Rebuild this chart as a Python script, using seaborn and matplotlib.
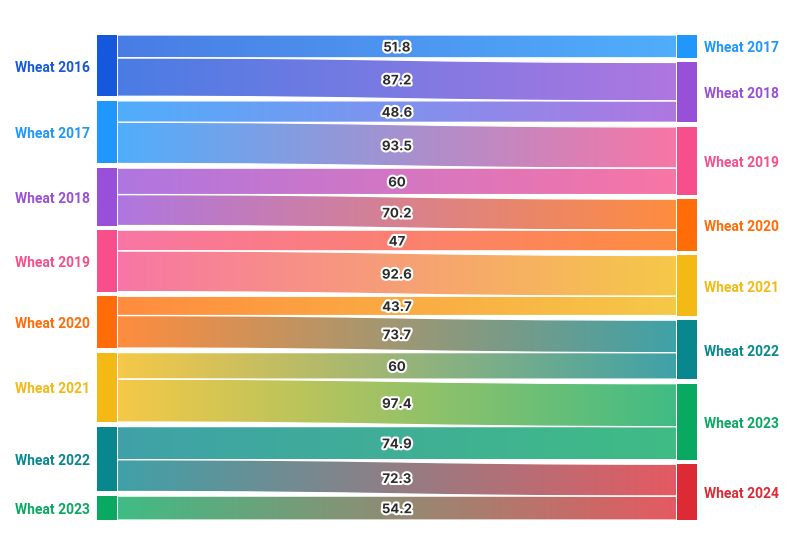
import numpy as np
import matplotlib
matplotlib.use("Agg")
import matplotlib.pyplot as plt
import matplotlib.patheffects as pe
import matplotlib.transforms as mtransforms
from matplotlib.path import Path
from matplotlib.patches import PathPatch, Rectangle
from matplotlib.colors import to_rgb
import seaborn as sns


# ── Data ──────────────────────────────────────────────────────────────────────

sources = ["Wheat 2016", "Wheat 2016", "Wheat 2017", "Wheat 2017", "Wheat 2018",
           "Wheat 2018", "Wheat 2019", "Wheat 2019", "Wheat 2020", "Wheat 2020",
           "Wheat 2021", "Wheat 2021", "Wheat 2022", "Wheat 2022", "Wheat 2023"]
targets = ["Wheat 2017", "Wheat 2018", "Wheat 2018", "Wheat 2019", "Wheat 2019",
           "Wheat 2020", "Wheat 2020", "Wheat 2021", "Wheat 2021", "Wheat 2022",
           "Wheat 2022", "Wheat 2023", "Wheat 2023", "Wheat 2024", "Wheat 2024"]
values = [51.8, 87.2, 48.6, 93.5, 60, 70.2, 47, 92.6, 43.7, 73.7,
          60, 97.4, 74.9, 72.3, 54.2]

left_nodes = ["Wheat 2016", "Wheat 2017", "Wheat 2018", "Wheat 2019",
              "Wheat 2020", "Wheat 2021", "Wheat 2022", "Wheat 2023"]
right_nodes = ["Wheat 2017", "Wheat 2018", "Wheat 2019", "Wheat 2020",
               "Wheat 2021", "Wheat 2022", "Wheat 2023", "Wheat 2024"]

node_colors = {
    "Wheat 2016": "#1658dc",
    "Wheat 2017": "#1f97fb",
    "Wheat 2018": "#9850d8",
    "Wheat 2019": "#f64f8b",
    "Wheat 2020": "#ff6c08",
    "Wheat 2021": "#f3b914",
    "Wheat 2022": "#09878f",
    "Wheat 2023": "#0aa962",
    "Wheat 2024": "#dd2b35",
}


# ── Layout helpers ────────────────────────────────────────────────────────────

GAP = 10.5         # gap between nodes, in value units
NODE_W = 0.034     # node bar width, in axis x units
LINK_ALPHA = 0.78


def stack_nodes(nodes, side):
    totals = {n: 0.0 for n in nodes}
    for s, t, v in zip(sources, targets, values):
        key = s if side == "left" else t
        if key in totals:
            totals[key] += v
    pos, y = {}, 0.0
    for n in nodes:
        pos[n] = (y, y + totals[n])
        y += totals[n] + GAP
    return pos


def lighten(color, alpha):
    c = np.array(to_rgb(color))
    return c * alpha + (1 - alpha)


def link_path(x0, x1, s_top, s_bot, t_top, t_bot):
    xm = (x0 + x1) / 2
    verts = [(x0, s_top), (xm, s_top), (xm, t_top), (x1, t_top),
             (x1, t_bot), (xm, t_bot), (xm, s_bot), (x0, s_bot), (x0, s_top)]
    codes = [Path.MOVETO, Path.CURVE4, Path.CURVE4, Path.CURVE4,
             Path.LINETO, Path.CURVE4, Path.CURVE4, Path.CURVE4, Path.CLOSEPOLY]
    return Path(verts, codes)


# ── Plot ──────────────────────────────────────────────────────────────────────

sns.set_theme(style="white")
plt.rcParams["font.family"] = ["Roboto", "DejaVu Sans"]

fig = plt.figure(figsize=(7.94, 5.37), dpi=100)
ax = fig.add_axes([97 / 794, 1 - 520 / 537, 600 / 794, 485 / 537])

# push all text a touch lower
shift = mtransforms.offset_copy(ax.transData, fig=fig, x=0, y=-1.5, units="points")

left_pos = stack_nodes(left_nodes, "left")
right_pos = stack_nodes(right_nodes, "right")
y_max = max(v[1] for v in left_pos.values())

left_off = {n: left_pos[n][0] for n in left_nodes}
right_off = {n: right_pos[n][0] for n in right_nodes}

x0, x1 = NODE_W, 1 - NODE_W
for s, t, v in zip(sources, targets, values):
    s_top = left_off[s]
    s_bot = s_top + v
    left_off[s] = s_bot
    t_top = right_off[t]
    t_bot = t_top + v
    right_off[t] = t_bot

    path = link_path(x0, x1, s_top, s_bot, t_top, t_bot)
    c0 = lighten(node_colors[s], LINK_ALPHA)
    c1 = lighten(node_colors[t], LINK_ALPHA)
    tt = np.linspace(0, 1, 256)[:, None]
    grad = (c0[None, :] * (1 - tt) + c1[None, :] * tt)[None, :, :]
    lo, hi = min(s_top, t_top), max(s_bot, t_bot)
    im = ax.imshow(grad, extent=[x0, x1, hi, lo], aspect="auto",
                   interpolation="bilinear", zorder=1)
    patch = PathPatch(path, facecolor="none", edgecolor="white", lw=0.9, zorder=2)
    ax.add_patch(patch)
    im.set_clip_path(patch)

    ym = (s_top + s_bot + t_top + t_bot) / 4
    ax.text(0.5, ym, f"{v:g}", ha="center", va="center", fontsize=9.5,
            fontweight="bold", color="#2b2b2b", zorder=5, transform=shift,
            family=["Inter", "DejaVu Sans"],
            path_effects=[pe.withStroke(linewidth=3, foreground="white")])

for n in left_nodes:
    top, bot = left_pos[n]
    ax.add_patch(Rectangle((0, top), NODE_W, bot - top, facecolor=node_colors[n],
                           edgecolor="none", zorder=3))
    ax.text(-0.012, (top + bot) / 2, n, ha="right", va="center", fontsize=10,
            fontweight="bold", color=node_colors[n], transform=shift)

for n in right_nodes:
    top, bot = right_pos[n]
    ax.add_patch(Rectangle((1 - NODE_W, top), NODE_W, bot - top,
                           facecolor=node_colors[n], edgecolor="none", zorder=3))
    ax.text(1.012, (top + bot) / 2, n, ha="left", va="center", fontsize=10,
            fontweight="bold", color=node_colors[n], transform=shift)

ax.set_xlim(0, 1)
ax.set_ylim(y_max, 0)
ax.axis("off")

fig.savefig("out.png", dpi=100)
